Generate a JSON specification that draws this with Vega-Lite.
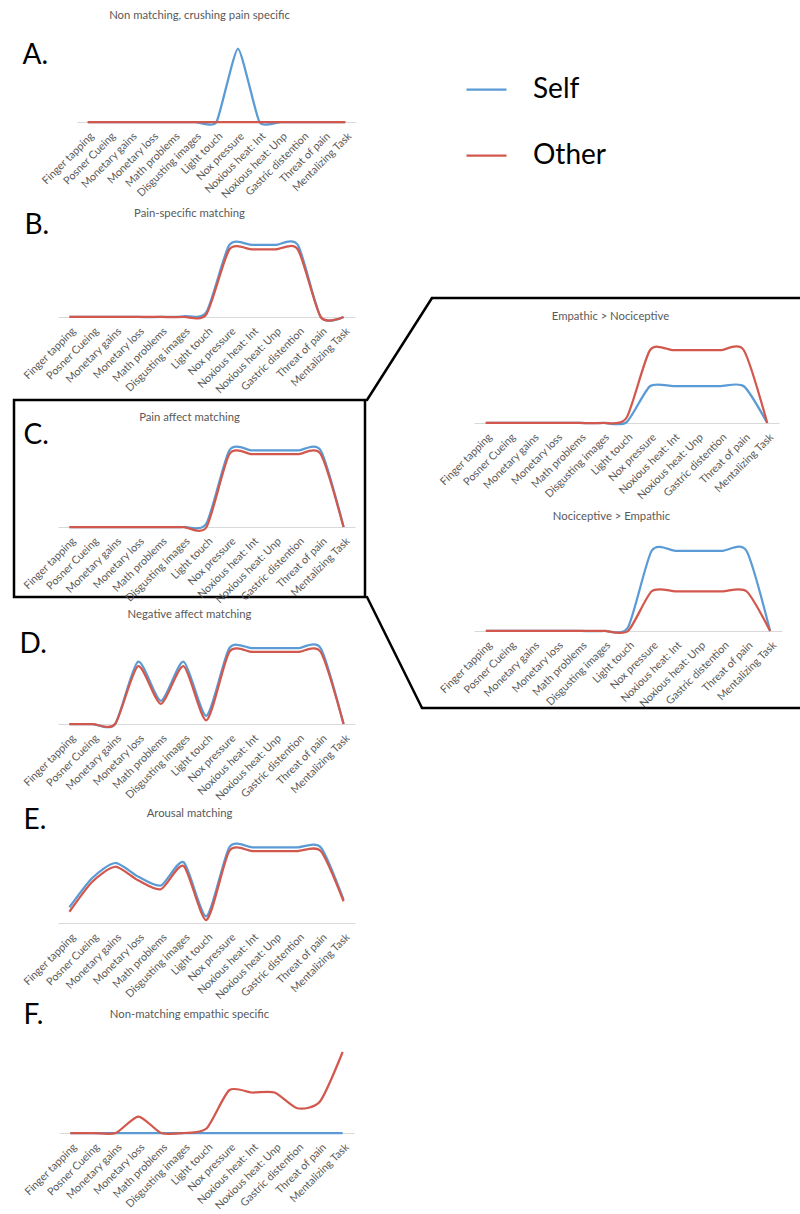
{
  "$schema": "https://vega.github.io/schema/vega-lite/v6.json",
  "background": "white",
  "padding": {"left": 12, "top": 0, "right": 0, "bottom": 0},
  "config": {
    "view": {"stroke": null},
    "font": "Lato",
    "concat": {"spacing": 0},
    "title": {"font": "Lato", "fontSize": 11.3, "fontWeight": "normal", "color": "#595959", "baseline": "middle", "anchor": "middle"},
    "axisX": {"labelAngle": -45, "ticks": false, "tickSize": 0, "labelPadding": 8, "domainColor": "#d9d9d9", "domainWidth": 1, "labelFontSize": 10.8, "labelColor": "#595959", "labelFont": "Lato", "grid": false, "labelOverlap": false, "title": null},
    "axisY": {"domain": false, "ticks": false, "labels": false, "grid": false, "titleAngle": 0, "titleAlign": "left", "titleBaseline": "alphabetic", "titleFontSize": 28, "titleFontWeight": "normal", "titleColor": "black", "titleFont": "Lato"},
    "line": {"interpolate": "cardinal", "tension": 0.3, "strokeWidth": 2.25}
  },
  "data": {"name": "d"},
  "datasets": {
    "d": [
      {"p":"A","s":"Self","t":"Finger tapping","v":0},{"p":"A","s":"Self","t":"Posner Cueing","v":0},{"p":"A","s":"Self","t":"Monetary gains","v":0},{"p":"A","s":"Self","t":"Monetary loss","v":0},{"p":"A","s":"Self","t":"Math problems","v":0},{"p":"A","s":"Self","t":"Disgusting images","v":0},{"p":"A","s":"Self","t":"Light touch","v":0},{"p":"A","s":"Self","t":"Nox pressure","v":0.98},{"p":"A","s":"Self","t":"Noxious heat: Int","v":0},{"p":"A","s":"Self","t":"Noxious heat: Unp","v":0},{"p":"A","s":"Self","t":"Gastric distention","v":0},{"p":"A","s":"Self","t":"Threat of pain","v":0},{"p":"A","s":"Self","t":"Mentalizing Task","v":0},
      {"p":"A","s":"Other","t":"Finger tapping","v":0},{"p":"A","s":"Other","t":"Posner Cueing","v":0},{"p":"A","s":"Other","t":"Monetary gains","v":0},{"p":"A","s":"Other","t":"Monetary loss","v":0},{"p":"A","s":"Other","t":"Math problems","v":0},{"p":"A","s":"Other","t":"Disgusting images","v":0},{"p":"A","s":"Other","t":"Light touch","v":0},{"p":"A","s":"Other","t":"Nox pressure","v":0},{"p":"A","s":"Other","t":"Noxious heat: Int","v":0},{"p":"A","s":"Other","t":"Noxious heat: Unp","v":0},{"p":"A","s":"Other","t":"Gastric distention","v":0},{"p":"A","s":"Other","t":"Threat of pain","v":0},{"p":"A","s":"Other","t":"Mentalizing Task","v":0},
      {"p":"B","s":"Self","t":"Finger tapping","v":0},{"p":"B","s":"Self","t":"Posner Cueing","v":0},{"p":"B","s":"Self","t":"Monetary gains","v":0},{"p":"B","s":"Self","t":"Monetary loss","v":0},{"p":"B","s":"Self","t":"Math problems","v":0},{"p":"B","s":"Self","t":"Disgusting images","v":0.01},{"p":"B","s":"Self","t":"Light touch","v":0.07},{"p":"B","s":"Self","t":"Nox pressure","v":0.96},{"p":"B","s":"Self","t":"Noxious heat: Int","v":0.96},{"p":"B","s":"Self","t":"Noxious heat: Unp","v":0.96},{"p":"B","s":"Self","t":"Gastric distention","v":0.96},{"p":"B","s":"Self","t":"Threat of pain","v":0},{"p":"B","s":"Self","t":"Mentalizing Task","v":0},
      {"p":"B","s":"Other","t":"Finger tapping","v":0},{"p":"B","s":"Other","t":"Posner Cueing","v":0},{"p":"B","s":"Other","t":"Monetary gains","v":0},{"p":"B","s":"Other","t":"Monetary loss","v":0},{"p":"B","s":"Other","t":"Math problems","v":0},{"p":"B","s":"Other","t":"Disgusting images","v":0},{"p":"B","s":"Other","t":"Light touch","v":0.04},{"p":"B","s":"Other","t":"Nox pressure","v":0.9},{"p":"B","s":"Other","t":"Noxious heat: Int","v":0.9},{"p":"B","s":"Other","t":"Noxious heat: Unp","v":0.9},{"p":"B","s":"Other","t":"Gastric distention","v":0.9},{"p":"B","s":"Other","t":"Threat of pain","v":0},{"p":"B","s":"Other","t":"Mentalizing Task","v":0},
      {"p":"C","s":"Self","t":"Finger tapping","v":0},{"p":"C","s":"Self","t":"Posner Cueing","v":0},{"p":"C","s":"Self","t":"Monetary gains","v":0},{"p":"C","s":"Self","t":"Monetary loss","v":0},{"p":"C","s":"Self","t":"Math problems","v":0},{"p":"C","s":"Self","t":"Disgusting images","v":0},{"p":"C","s":"Self","t":"Light touch","v":0.05},{"p":"C","s":"Self","t":"Nox pressure","v":1.02},{"p":"C","s":"Self","t":"Noxious heat: Int","v":1.02},{"p":"C","s":"Self","t":"Noxious heat: Unp","v":1.02},{"p":"C","s":"Self","t":"Gastric distention","v":1.02},{"p":"C","s":"Self","t":"Threat of pain","v":1.02},{"p":"C","s":"Self","t":"Mentalizing Task","v":0},
      {"p":"C","s":"Other","t":"Finger tapping","v":0},{"p":"C","s":"Other","t":"Posner Cueing","v":0},{"p":"C","s":"Other","t":"Monetary gains","v":0},{"p":"C","s":"Other","t":"Monetary loss","v":0},{"p":"C","s":"Other","t":"Math problems","v":0},{"p":"C","s":"Other","t":"Disgusting images","v":0},{"p":"C","s":"Other","t":"Light touch","v":0},{"p":"C","s":"Other","t":"Nox pressure","v":0.97},{"p":"C","s":"Other","t":"Noxious heat: Int","v":0.97},{"p":"C","s":"Other","t":"Noxious heat: Unp","v":0.97},{"p":"C","s":"Other","t":"Gastric distention","v":0.97},{"p":"C","s":"Other","t":"Threat of pain","v":0.97},{"p":"C","s":"Other","t":"Mentalizing Task","v":0},
      {"p":"D","s":"Self","t":"Finger tapping","v":0},{"p":"D","s":"Self","t":"Posner Cueing","v":0},{"p":"D","s":"Self","t":"Monetary gains","v":0},{"p":"D","s":"Self","t":"Monetary loss","v":0.83},{"p":"D","s":"Self","t":"Math problems","v":0.31},{"p":"D","s":"Self","t":"Disgusting images","v":0.83},{"p":"D","s":"Self","t":"Light touch","v":0.11},{"p":"D","s":"Self","t":"Nox pressure","v":1.01},{"p":"D","s":"Self","t":"Noxious heat: Int","v":1.01},{"p":"D","s":"Self","t":"Noxious heat: Unp","v":1.01},{"p":"D","s":"Self","t":"Gastric distention","v":1.01},{"p":"D","s":"Self","t":"Threat of pain","v":1.01},{"p":"D","s":"Self","t":"Mentalizing Task","v":0},
      {"p":"D","s":"Other","t":"Finger tapping","v":0},{"p":"D","s":"Other","t":"Posner Cueing","v":0},{"p":"D","s":"Other","t":"Monetary gains","v":0},{"p":"D","s":"Other","t":"Monetary loss","v":0.77},{"p":"D","s":"Other","t":"Math problems","v":0.27},{"p":"D","s":"Other","t":"Disgusting images","v":0.77},{"p":"D","s":"Other","t":"Light touch","v":0.05},{"p":"D","s":"Other","t":"Nox pressure","v":0.96},{"p":"D","s":"Other","t":"Noxious heat: Int","v":0.96},{"p":"D","s":"Other","t":"Noxious heat: Unp","v":0.96},{"p":"D","s":"Other","t":"Gastric distention","v":0.96},{"p":"D","s":"Other","t":"Threat of pain","v":0.96},{"p":"D","s":"Other","t":"Mentalizing Task","v":0},
      {"p":"E","s":"Self","t":"Finger tapping","v":0.21},{"p":"E","s":"Self","t":"Posner Cueing","v":0.6},{"p":"E","s":"Self","t":"Monetary gains","v":0.8},{"p":"E","s":"Self","t":"Monetary loss","v":0.62},{"p":"E","s":"Self","t":"Math problems","v":0.5},{"p":"E","s":"Self","t":"Disgusting images","v":0.81},{"p":"E","s":"Self","t":"Light touch","v":0.09},{"p":"E","s":"Self","t":"Nox pressure","v":1.01},{"p":"E","s":"Self","t":"Noxious heat: Int","v":1.01},{"p":"E","s":"Self","t":"Noxious heat: Unp","v":1.01},{"p":"E","s":"Self","t":"Gastric distention","v":1.01},{"p":"E","s":"Self","t":"Threat of pain","v":1.01},{"p":"E","s":"Self","t":"Mentalizing Task","v":0.31},
      {"p":"E","s":"Other","t":"Finger tapping","v":0.15},{"p":"E","s":"Other","t":"Posner Cueing","v":0.55},{"p":"E","s":"Other","t":"Monetary gains","v":0.75},{"p":"E","s":"Other","t":"Monetary loss","v":0.57},{"p":"E","s":"Other","t":"Math problems","v":0.45},{"p":"E","s":"Other","t":"Disgusting images","v":0.76},{"p":"E","s":"Other","t":"Light touch","v":0.04},{"p":"E","s":"Other","t":"Nox pressure","v":0.96},{"p":"E","s":"Other","t":"Noxious heat: Int","v":0.96},{"p":"E","s":"Other","t":"Noxious heat: Unp","v":0.96},{"p":"E","s":"Other","t":"Gastric distention","v":0.96},{"p":"E","s":"Other","t":"Threat of pain","v":0.96},{"p":"E","s":"Other","t":"Mentalizing Task","v":0.29},
      {"p":"F","s":"Self","t":"Finger tapping","v":0},{"p":"F","s":"Self","t":"Posner Cueing","v":0},{"p":"F","s":"Self","t":"Monetary gains","v":0},{"p":"F","s":"Self","t":"Monetary loss","v":0},{"p":"F","s":"Self","t":"Math problems","v":0},{"p":"F","s":"Self","t":"Disgusting images","v":0},{"p":"F","s":"Self","t":"Light touch","v":0},{"p":"F","s":"Self","t":"Nox pressure","v":0},{"p":"F","s":"Self","t":"Noxious heat: Int","v":0},{"p":"F","s":"Self","t":"Noxious heat: Unp","v":0},{"p":"F","s":"Self","t":"Gastric distention","v":0},{"p":"F","s":"Self","t":"Threat of pain","v":0},{"p":"F","s":"Self","t":"Mentalizing Task","v":0},
      {"p":"F","s":"Other","t":"Finger tapping","v":0},{"p":"F","s":"Other","t":"Posner Cueing","v":0},{"p":"F","s":"Other","t":"Monetary gains","v":0},{"p":"F","s":"Other","t":"Monetary loss","v":0.22},{"p":"F","s":"Other","t":"Math problems","v":0},{"p":"F","s":"Other","t":"Disgusting images","v":0},{"p":"F","s":"Other","t":"Light touch","v":0.06},{"p":"F","s":"Other","t":"Nox pressure","v":0.57},{"p":"F","s":"Other","t":"Noxious heat: Int","v":0.54},{"p":"F","s":"Other","t":"Noxious heat: Unp","v":0.54},{"p":"F","s":"Other","t":"Gastric distention","v":0.33},{"p":"F","s":"Other","t":"Threat of pain","v":0.42},{"p":"F","s":"Other","t":"Mentalizing Task","v":1.08},
      {"p":"EN","s":"Self","t":"Finger tapping","v":0},{"p":"EN","s":"Self","t":"Posner Cueing","v":0},{"p":"EN","s":"Self","t":"Monetary gains","v":0},{"p":"EN","s":"Self","t":"Monetary loss","v":0},{"p":"EN","s":"Self","t":"Math problems","v":0},{"p":"EN","s":"Self","t":"Disgusting images","v":0},{"p":"EN","s":"Self","t":"Light touch","v":0.01},{"p":"EN","s":"Self","t":"Nox pressure","v":0.49},{"p":"EN","s":"Self","t":"Noxious heat: Int","v":0.49},{"p":"EN","s":"Self","t":"Noxious heat: Unp","v":0.49},{"p":"EN","s":"Self","t":"Gastric distention","v":0.49},{"p":"EN","s":"Self","t":"Threat of pain","v":0.49},{"p":"EN","s":"Self","t":"Mentalizing Task","v":0},
      {"p":"EN","s":"Other","t":"Finger tapping","v":0},{"p":"EN","s":"Other","t":"Posner Cueing","v":0},{"p":"EN","s":"Other","t":"Monetary gains","v":0},{"p":"EN","s":"Other","t":"Monetary loss","v":0},{"p":"EN","s":"Other","t":"Math problems","v":0},{"p":"EN","s":"Other","t":"Disgusting images","v":0},{"p":"EN","s":"Other","t":"Light touch","v":0.07},{"p":"EN","s":"Other","t":"Nox pressure","v":0.97},{"p":"EN","s":"Other","t":"Noxious heat: Int","v":0.97},{"p":"EN","s":"Other","t":"Noxious heat: Unp","v":0.97},{"p":"EN","s":"Other","t":"Gastric distention","v":0.97},{"p":"EN","s":"Other","t":"Threat of pain","v":0.97},{"p":"EN","s":"Other","t":"Mentalizing Task","v":0},
      {"p":"NE","s":"Self","t":"Finger tapping","v":0},{"p":"NE","s":"Self","t":"Posner Cueing","v":0},{"p":"NE","s":"Self","t":"Monetary gains","v":0},{"p":"NE","s":"Self","t":"Monetary loss","v":0},{"p":"NE","s":"Self","t":"Math problems","v":0},{"p":"NE","s":"Self","t":"Disgusting images","v":0},{"p":"NE","s":"Self","t":"Light touch","v":0.05},{"p":"NE","s":"Self","t":"Nox pressure","v":1.07},{"p":"NE","s":"Self","t":"Noxious heat: Int","v":1.07},{"p":"NE","s":"Self","t":"Noxious heat: Unp","v":1.07},{"p":"NE","s":"Self","t":"Gastric distention","v":1.07},{"p":"NE","s":"Self","t":"Threat of pain","v":1.07},{"p":"NE","s":"Self","t":"Mentalizing Task","v":0},
      {"p":"NE","s":"Other","t":"Finger tapping","v":0},{"p":"NE","s":"Other","t":"Posner Cueing","v":0},{"p":"NE","s":"Other","t":"Monetary gains","v":0},{"p":"NE","s":"Other","t":"Monetary loss","v":0},{"p":"NE","s":"Other","t":"Math problems","v":0},{"p":"NE","s":"Other","t":"Disgusting images","v":0},{"p":"NE","s":"Other","t":"Light touch","v":0},{"p":"NE","s":"Other","t":"Nox pressure","v":0.53},{"p":"NE","s":"Other","t":"Noxious heat: Int","v":0.53},{"p":"NE","s":"Other","t":"Noxious heat: Unp","v":0.53},{"p":"NE","s":"Other","t":"Gastric distention","v":0.53},{"p":"NE","s":"Other","t":"Threat of pain","v":0.53},{"p":"NE","s":"Other","t":"Mentalizing Task","v":0}
    ]
  },
  "spacing": -2.5,
  "hconcat": [
    {
      "spacing": 0,
      "bounds": "flush",
      "vconcat": [
        {
          "width": 351, "height": 200,
          "title": {"text": "Non matching, crushing pain specific", "offset": -21, "dx": 10},
          "transform": [{"filter": "datum.p === 'A'"}],
          "mark": {"type": "line", "tension": 0.5},
          "encoding": {
            "x": {"field": "t", "type": "nominal", "sort": null, "scale": {"type": "point", "range": [63, 342], "padding": 0.5}, "axis": {"offset": -78}},
            "y": {"field": "v", "type": "quantitative", "scale": {"domain": [-1.04, 1.6267], "nice": false, "zero": false}, "axis": {"title": "A.", "titleX": 8, "titleY": 63}},
            "color": {"field": "s", "type": "nominal", "scale": {"domain": ["Self", "Other"], "range": ["#5B9BD5", "#D2574D"]},
              "legend": {"orient": "none", "legendX": 451, "legendY": 68, "title": null, "symbolType": "stroke", "symbolSize": 1600, "symbolStrokeWidth": 4, "labelFontSize": 28, "labelFont": "Lato", "labelColor": "black", "labelOffset": 25, "rowPadding": 30, "padding": 0}}
          }
        },
        {
          "width": 351, "height": 200,
          "title": {"text": "Pain-specific matching", "offset": -19},
          "transform": [{"filter": "datum.p === 'B'"}],
          "mark": {"type": "line"},
          "encoding": {
            "x": {"field": "t", "type": "nominal", "sort": null, "scale": {"type": "point", "range": [44, 341], "padding": 0.5}, "axis": {"offset": -83}},
            "y": {"field": "v", "type": "quantitative", "scale": {"domain": [-1.1067, 1.56], "nice": false, "zero": false}, "axis": {"title": "B.", "titleX": 10, "titleY": 33}},
            "color": {"field": "s", "type": "nominal", "scale": {"domain": ["Self", "Other"], "range": ["#5B9BD5", "#D2574D"]}}
          }
        },
        {
          "width": 351, "height": 197,
          "view": {"stroke": "black", "strokeWidth": 2.5},
          "title": {"text": "Pain affect matching", "offset": -23},
          "transform": [{"filter": "datum.p === 'C'"}],
          "mark": {"type": "line"},
          "encoding": {
            "x": {"field": "t", "type": "nominal", "sort": null, "scale": {"type": "point", "range": [44, 341], "padding": 0.5}, "axis": {"offset": -70}},
            "y": {"field": "v", "type": "quantitative", "scale": {"domain": [-0.9333, 1.6933], "nice": false, "zero": false}, "axis": {"title": "C.", "titleX": 9, "titleY": 43}},
            "color": {"field": "s", "type": "nominal", "scale": {"domain": ["Self", "Other"], "range": ["#5B9BD5", "#D2574D"]}}
          }
        },
        {
          "width": 351, "height": 203,
          "title": {"text": "Negative affect matching", "offset": -23},
          "transform": [{"filter": "datum.p === 'D'"}],
          "mark": {"type": "line"},
          "encoding": {
            "x": {"field": "t", "type": "nominal", "sort": null, "scale": {"type": "point", "range": [44, 341], "padding": 0.5}, "axis": {"offset": -76}},
            "y": {"field": "v", "type": "quantitative", "scale": {"domain": [-1.0133, 1.6933], "nice": false, "zero": false}, "axis": {"title": "D.", "titleX": 5, "titleY": 55}},
            "color": {"field": "s", "type": "nominal", "scale": {"domain": ["Self", "Other"], "range": ["#5B9BD5", "#D2574D"]}}
          }
        },
        {
          "width": 351, "height": 204,
          "title": {"text": "Arousal matching", "offset": -19},
          "transform": [{"filter": "datum.p === 'E'"}],
          "mark": {"type": "line"},
          "encoding": {
            "x": {"field": "t", "type": "nominal", "sort": null, "scale": {"type": "point", "range": [44, 341], "padding": 0.5}, "axis": {"offset": -81}},
            "y": {"field": "v", "type": "quantitative", "scale": {"domain": [-1.08, 1.64], "nice": false, "zero": false}, "axis": {"title": "E.", "titleX": 9, "titleY": 28}},
            "color": {"field": "s", "type": "nominal", "scale": {"domain": ["Self", "Other"], "range": ["#5B9BD5", "#D2574D"]}}
          }
        },
        {
          "width": 351, "height": 210,
          "title": {"text": "Non-matching empathic specific", "offset": -19},
          "transform": [{"filter": "datum.p === 'F'"}],
          "mark": {"type": "line"},
          "encoding": {
            "x": {"field": "t", "type": "nominal", "sort": null, "scale": {"type": "point", "range": [45, 340], "padding": 0.5}, "axis": {"offset": -81}},
            "y": {"field": "v", "type": "quantitative", "scale": {"domain": [-1.08, 1.72], "nice": false, "zero": false}, "axis": {"title": "F.", "titleX": 9, "titleY": 19}},
            "color": {"field": "s", "type": "nominal", "scale": {"domain": ["Self", "Other"], "range": ["#5B9BD5", "#D2574D"]}}
          }
        }
      ]
    },
    {
      "spacing": 0,
      "bounds": "flush",
      "vconcat": [
        {
          "width": 437, "height": 503,
          "title": {"text": "Empathic > Nociceptive", "offset": -322, "dx": 25},
          "resolve": {"scale": {"x": "independent"}},
          "layer": [
            {
              "transform": [{"filter": "datum.p === 'EN'"}],
              "mark": {"type": "line"},
              "encoding": {
                "x": {"field": "t", "type": "nominal", "sort": null, "scale": {"type": "point", "range": [107, 412], "padding": 0.5}, "axis": {"offset": -80}},
                "y": {"field": "v", "type": "quantitative", "scale": {"domain": [-1.0667, 5.64], "nice": false, "zero": false}, "axis": {"title": null}},
                "color": {"field": "s", "type": "nominal", "scale": {"domain": ["Self", "Other"], "range": ["#5B9BD5", "#D2574D"]}}
              }
            },
            {
              "data": {"values": [{}]},
              "mark": {"type": "rule", "color": "black", "strokeWidth": 2.5, "strokeCap": "round"},
              "encoding": {
                "x": {"datum": 0, "type": "quantitative", "scale": {"domain": [0, 1], "nice": false}, "axis": null},
                "x2": {"datum": 0.1487},
                "y": {"datum": 0.3067, "type": "quantitative"},
                "y2": {"datum": 1.6667}
              }
            },
            {
              "data": {"values": [{}]},
              "mark": {"type": "rule", "color": "black", "strokeWidth": 2.5, "strokeCap": "round"},
              "encoding": {
                "x": {"datum": 0.1487, "type": "quantitative", "scale": {"domain": [0, 1], "nice": false}, "axis": null},
                "x2": {"datum": 1},
                "y": {"datum": 1.6667, "type": "quantitative"}
              }
            }
          ]
        },
        {
          "width": 437, "height": 205,
          "title": {"text": "Nociceptive > Empathic", "offset": -19, "dx": 26},
          "resolve": {"scale": {"x": "independent"}},
          "layer": [
            {
              "transform": [{"filter": "datum.p === 'NE'"}],
              "mark": {"type": "line"},
              "encoding": {
                "x": {"field": "t", "type": "nominal", "sort": null, "scale": {"type": "point", "range": [107, 415], "padding": 0.5}, "axis": {"offset": -77}},
                "y": {"field": "v", "type": "quantitative", "scale": {"domain": [-1.0267, 1.7067], "nice": false, "zero": false}, "axis": {"title": null}},
                "color": {"field": "s", "type": "nominal", "scale": {"domain": ["Self", "Other"], "range": ["#5B9BD5", "#D2574D"]}}
              }
            },
            {
              "data": {"values": [{}]},
              "mark": {"type": "rule", "color": "black", "strokeWidth": 2.5, "strokeCap": "round"},
              "encoding": {
                "x": {"datum": 0, "type": "quantitative", "scale": {"domain": [0, 1], "nice": false}, "axis": null},
                "x2": {"datum": 0.1259},
                "y": {"datum": 0.4533, "type": "quantitative"},
                "y2": {"datum": -1.0267}
              }
            },
            {
              "data": {"values": [{}]},
              "mark": {"type": "rule", "color": "black", "strokeWidth": 2.5, "strokeCap": "round"},
              "encoding": {
                "x": {"datum": 0.1259, "type": "quantitative", "scale": {"domain": [0, 1], "nice": false}, "axis": null},
                "x2": {"datum": 1},
                "y": {"datum": -1.0267, "type": "quantitative"}
              }
            }
          ]
        }
      ]
    }
  ]
}
